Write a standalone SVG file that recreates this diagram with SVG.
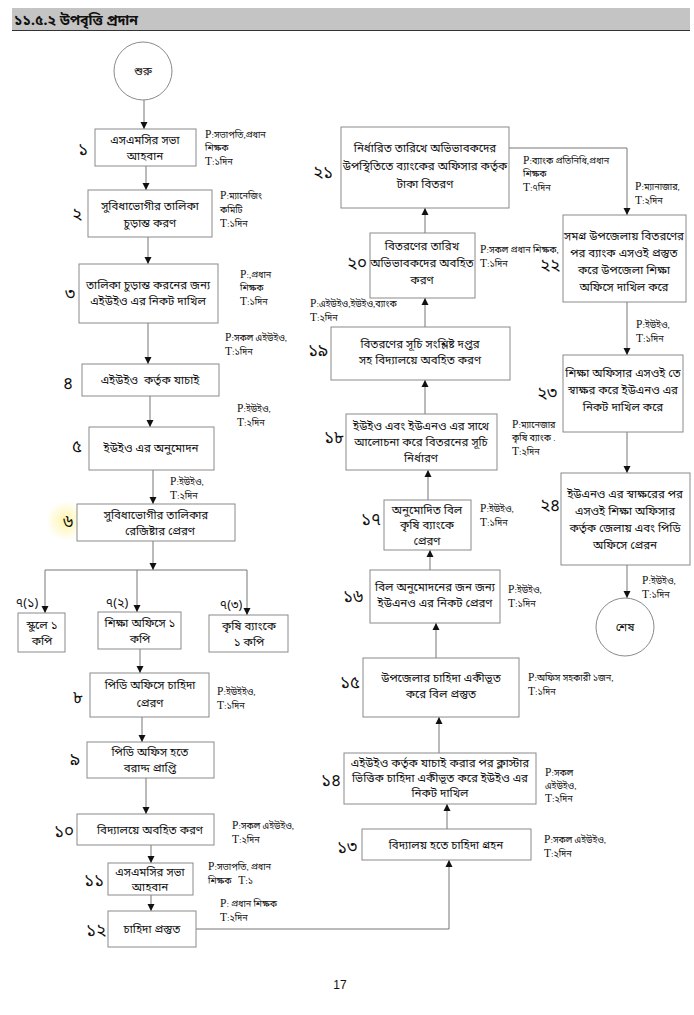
<svg xmlns="http://www.w3.org/2000/svg" width="694" height="1015" viewBox="0 0 694 1015">
<style>
.bx{fill:#fff;stroke:#8a8a8a;stroke-width:1}
.ci{fill:#fff;stroke:#8a8a8a;stroke-width:1}
.t{font-family:"Noto Sans Bengali","Noto Serif Bengali","Lohit Bengali","Liberation Serif",serif;font-size:11.5px;fill:#111;text-anchor:middle}
.n{font-family:"Noto Sans Bengali","Noto Serif Bengali","Lohit Bengali","Liberation Serif",serif;font-size:17px;fill:#111;text-anchor:middle}
.l{font-family:"Liberation Serif","Noto Sans Bengali","Noto Serif Bengali",serif;font-size:9px;fill:#111}
.l tspan.p{font-size:11.5px}
.c{fill:none;stroke:#777;stroke-width:1}
</style>
<defs>
<marker id="ah" markerWidth="8" markerHeight="8" refX="7" refY="4" orient="auto" markerUnits="userSpaceOnUse">
<path d="M0,0.5 L7,4 L0,7.5 Z" fill="#111"/>
</marker>
<radialGradient id="hl">
<stop offset="0" stop-color="#fff3a0" stop-opacity="0.9"/>
<stop offset="1" stop-color="#fff3a0" stop-opacity="0"/>
</radialGradient>
</defs>
<rect width="694" height="1015" fill="#fff"/>
<g id="header">
<rect x="12" y="8" width="678" height="22" fill="#c4c4c4"/>
<line x1="12" y1="30.5" x2="690" y2="30.5" stroke="#333" stroke-width="1"/>
<text x="14" y="25" style="font-family:'Noto Sans Bengali','Noto Serif Bengali','Lohit Bengali','Liberation Sans',sans-serif;font-size:14px;font-weight:bold;fill:#111">১১.৫.২ উপবৃত্তি প্রদান</text>
</g>
<g id="connectors">
<line class="c" x1="144" y1="100" x2="144" y2="129" marker-end="url(#ah)"/>
<line class="c" x1="146" y1="166" x2="146" y2="190" marker-end="url(#ah)"/>
<line class="c" x1="148" y1="237" x2="148" y2="264" marker-end="url(#ah)"/>
<line class="c" x1="148" y1="323" x2="148" y2="364" marker-end="url(#ah)"/>
<line class="c" x1="150" y1="396" x2="150" y2="427" marker-end="url(#ah)"/>
<line class="c" x1="153" y1="470" x2="153" y2="504" marker-end="url(#ah)"/>
<line class="c" x1="153" y1="541" x2="153" y2="570" marker-end="url(#ah)"/>
<line class="c" x1="45" y1="570" x2="247" y2="570"/>
<line class="c" x1="45" y1="570" x2="45" y2="613" marker-end="url(#ah)"/>
<line class="c" x1="247" y1="570" x2="247" y2="615" marker-end="url(#ah)"/>
<line class="c" x1="137" y1="570" x2="137" y2="612" marker-end="url(#ah)"/>
<line class="c" x1="140" y1="649" x2="140" y2="673" marker-end="url(#ah)"/>
<line class="c" x1="142" y1="717" x2="142" y2="742" marker-end="url(#ah)"/>
<line class="c" x1="146" y1="778" x2="146" y2="814" marker-end="url(#ah)"/>
<line class="c" x1="151" y1="845" x2="151" y2="863" marker-end="url(#ah)"/>
<line class="c" x1="151" y1="895" x2="151" y2="911" marker-end="url(#ah)"/>
<polyline class="c" points="196,929 449,929 449,860" marker-end="url(#ah)"/>
<line class="c" x1="447" y1="829" x2="447" y2="804" marker-end="url(#ah)"/>
<line class="c" x1="439" y1="753" x2="439" y2="717" marker-end="url(#ah)"/>
<line class="c" x1="436" y1="658" x2="436" y2="623" marker-end="url(#ah)"/>
<line class="c" x1="430" y1="570" x2="430" y2="550" marker-end="url(#ah)"/>
<line class="c" x1="428" y1="500" x2="428" y2="470" marker-end="url(#ah)"/>
<line class="c" x1="425" y1="414" x2="425" y2="380" marker-end="url(#ah)"/>
<line class="c" x1="425" y1="327" x2="425" y2="298" marker-end="url(#ah)"/>
<line class="c" x1="425" y1="233" x2="425" y2="208" marker-end="url(#ah)"/>
<polyline class="c" points="509,148 627,148 627,215" marker-end="url(#ah)"/>
<line class="c" x1="627" y1="302" x2="627" y2="355" marker-end="url(#ah)"/>
<line class="c" x1="627" y1="432" x2="627" y2="473" marker-end="url(#ah)"/>
<line class="c" x1="627" y1="565" x2="627" y2="598" marker-end="url(#ah)"/>
</g>
<g id="start"><circle class="ci" cx="143" cy="71" r="29"/><text class="t" x="143" y="75">শুরু</text></g>
<g id="n1"><rect class="bx" x="95" y="129" width="101" height="37"/><text class="t" x="145" y="144">এসএমসির সভা</text><text class="t" x="145" y="160">আহবান</text><text class="n" x="83" y="155">১</text>
<text class="l" x="205" y="138"><tspan class="p">P</tspan>:সভাপতি,প্রধান</text><text class="l" x="205" y="151">শিক্ষক</text><text class="l" x="205" y="165"><tspan class="p">T</tspan>:১দিন</text></g>
<g id="n2"><rect class="bx" x="88" y="190" width="124" height="47"/><text class="t" x="150" y="210">সুবিধাভোগীর তালিকা</text><text class="t" x="150" y="227">চুড়ান্ত করণ</text><text class="n" x="77" y="220">২</text>
<text class="l" x="220" y="199"><tspan class="p">P</tspan>:ম্যানেজিং</text><text class="l" x="220" y="213">কমিটি</text><text class="l" x="220" y="227"><tspan class="p">T</tspan>:১দিন</text></g>
<g id="n3"><rect class="bx" x="79" y="264" width="139" height="59"/><text class="t" x="148" y="289">তালিকা চুড়ান্ত করনের জন্য</text><text class="t" x="148" y="305">এইউইও এর নিকট দাখিল</text><text class="n" x="70" y="300">৩</text>
<text class="l" x="240" y="278"><tspan class="p">P</tspan>:,প্রধান</text><text class="l" x="240" y="291">শিক্ষক</text><text class="l" x="240" y="305"><tspan class="p">T</tspan>:১দিন</text></g>
<g id="n4"><rect class="bx" x="82" y="364" width="137" height="32"/><text class="t" x="150" y="384" xml:space="preserve">এইউইও  কর্তৃক যাচাই</text><text class="n" x="68" y="389">৪</text>
<text class="l" x="225" y="341"><tspan class="p">P</tspan>:সকল এইউইও,</text><text class="l" x="225" y="355"><tspan class="p">T</tspan>:১দিন</text></g>
<g id="n5"><rect class="bx" x="89" y="427" width="125" height="43"/><text class="t" x="151" y="452">ইউইও এর অনুমোদন</text><text class="n" x="77" y="452">৫</text>
<text class="l" x="237" y="412"><tspan class="p">P</tspan>:ইউইও,</text><text class="l" x="237" y="426"><tspan class="p">T</tspan>:২দিন</text></g>
<g id="n6"><circle cx="66" cy="521" r="20" fill="url(#hl)"/><rect class="bx" x="77" y="504" width="158" height="37"/><text class="t" x="156" y="519">সুবিধাভোগীর তালিকার</text><text class="t" x="160" y="535">রেজিষ্টার প্রেরণ</text><text class="n" x="68" y="527">৬</text>
<text class="l" x="170" y="485"><tspan class="p">P</tspan>:ইউইও,</text><text class="l" x="170" y="499"><tspan class="p">T</tspan>:২দিন</text></g>
<g id="n7a"><rect class="bx" x="18" y="613" width="47" height="39"/><text class="t" x="42" y="629">স্কুলে ১</text><text class="t" x="42" y="645">কপি</text><text class="t" x="27" y="607" style="font-size:12.5px">৭(১)</text></g>
<g id="n7b"><rect class="bx" x="98" y="612" width="83" height="37"/><text class="t" x="140" y="627">শিক্ষা অফিসে ১</text><text class="t" x="140" y="643">কপি</text><text class="t" x="117" y="607" style="font-size:12.5px">৭(২)</text></g>
<g id="n7c"><rect class="bx" x="209" y="615" width="79" height="37"/><text class="t" x="249" y="630">কৃষি ব্যাংকে</text><text class="t" x="249" y="646">১ কপি</text><text class="t" x="231" y="609" style="font-size:12.5px">৭(৩)</text></g>
<g id="n8"><rect class="bx" x="90" y="673" width="119" height="44"/><text class="t" x="150" y="689">পিডি অফিসে চাহিদা</text><text class="t" x="150" y="707">প্রেরণ</text><text class="n" x="78" y="703">৮</text>
<text class="l" x="217" y="695"><tspan class="p">P</tspan>:ইউইইও,</text><text class="l" x="217" y="709"><tspan class="p">T</tspan>:১দিন</text></g>
<g id="n9"><rect class="bx" x="87" y="742" width="127" height="36"/><text class="t" x="150" y="756">পিডি অফিস হতে</text><text class="t" x="150" y="772">বরাদ্দ প্রাপ্তি</text><text class="n" x="75" y="765">৯</text></g>
<g id="n10"><rect class="bx" x="77" y="814" width="137" height="31"/><text class="t" x="150" y="834">বিদ্যালয়ে অবহিত করণ</text><text class="n" x="64" y="837">১০</text>
<text class="l" x="232" y="829"><tspan class="p">P</tspan>:সকল এইউইও,</text><text class="l" x="232" y="843"><tspan class="p">T</tspan>:২দিন</text></g>
<g id="n11"><rect class="bx" x="108" y="863" width="85" height="32"/><text class="t" x="150" y="876">এসএমসির সভা</text><text class="t" x="150" y="891">আহবান</text><text class="n" x="94" y="886">১১</text>
<text class="l" x="208" y="870"><tspan class="p">P</tspan>:সভাপতি, প্রধান</text><text class="l" x="208" y="884" xml:space="preserve">শিক্ষক   <tspan class="p">T</tspan>:১</text></g>
<g id="n12"><rect class="bx" x="108" y="911" width="88" height="36"/><text class="t" x="152" y="933">চাহিদা প্রস্তুত</text><text class="n" x="96" y="936">১২</text>
<text class="l" x="220" y="907"><tspan class="p">P</tspan>: প্রধান শিক্ষক</text><text class="l" x="220" y="921"><tspan class="p">T</tspan>:২দিন</text></g>
<g id="n13"><rect class="bx" x="362" y="829" width="169" height="31"/><text class="t" x="446" y="849">বিদ্যালয় হতে চাহিদা গ্রহন</text><text class="n" x="347" y="853">১৩</text>
<text class="l" x="544" y="843"><tspan class="p">P</tspan>:সকল এইউইও,</text><text class="l" x="544" y="857"><tspan class="p">T</tspan>:২দিন</text></g>
<g id="n14"><rect class="bx" x="344" y="753" width="192" height="51"/><text class="t" x="440" y="767">এইউইও কর্তৃক যাচাই করার পর ক্লাস্টার</text><text class="t" x="440" y="782">ভিত্তিক চাহিদা একীভূত করে ইউইও এর</text><text class="t" x="440" y="797">নিকট দাখিল</text><text class="n" x="331" y="786">১৪</text>
<text class="l" x="545" y="776"><tspan class="p">P</tspan>:সকল</text><text class="l" x="545" y="789">এইউইও,</text><text class="l" x="545" y="802"><tspan class="p">T</tspan>:২দিন</text></g>
<g id="n15"><rect class="bx" x="363" y="658" width="156" height="59"/><text class="t" x="441" y="682">উপজেলার চাহিদা একীভূত</text><text class="t" x="441" y="698">করে বিল প্রস্তুত</text><text class="n" x="350" y="688">১৫</text>
<text class="l" x="528" y="681"><tspan class="p">P</tspan>:অফিস সহকারী ১জন,</text><text class="l" x="528" y="695"><tspan class="p">T</tspan>:১দিন</text></g>
<g id="n16"><rect class="bx" x="370" y="570" width="130" height="53"/><text class="t" x="435" y="591">বিল অনুমোদনের জন জন্য</text><text class="t" x="435" y="607">ইউএনও এর নিকট প্রেরণ</text><text class="n" x="353" y="602">১৬</text>
<text class="l" x="508" y="593"><tspan class="p">P</tspan>:ইউইও,</text><text class="l" x="508" y="607"><tspan class="p">T</tspan>:১দিন</text></g>
<g id="n17"><rect class="bx" x="384" y="500" width="87" height="50"/><text class="t" x="427" y="514">অনুমোদিত বিল</text><text class="t" x="427" y="529">কৃষি ব্যাংকে</text><text class="t" x="427" y="545">প্রেরণ</text><text class="n" x="371" y="525">১৭</text>
<text class="l" x="480" y="512"><tspan class="p">P</tspan>:ইউইও,</text><text class="l" x="480" y="526"><tspan class="p">T</tspan>:১দিন</text></g>
<g id="n18"><rect class="bx" x="346" y="414" width="151" height="56"/><text class="t" x="421" y="430">ইউইও এবং ইউএনও এর সাথে</text><text class="t" x="421" y="446">আলোচনা করে বিতরনের সূচি</text><text class="t" x="421" y="462">নির্ধারণ</text><text class="n" x="334" y="443">১৮</text>
<text class="l" x="512" y="428"><tspan class="p">P</tspan>:ম্যানেজার</text><text class="l" x="512" y="441">কৃষি ব্যাংক .</text><text class="l" x="512" y="455"><tspan class="p">T</tspan>:২দিন</text></g>
<g id="n19"><rect class="bx" x="331" y="327" width="179" height="53"/><text class="t" x="420" y="348">বিতরণের সূচি সংশ্লিষ্ট দপ্তর</text><text class="t" x="420" y="364">সহ বিদ্যালয়ে অবহিত করণ</text><text class="n" x="318" y="356">১৯</text>
<text class="l" x="310" y="307"><tspan class="p">P</tspan>:এইউইও,ইউইও,ব্যাংক</text><text class="l" x="310" y="321"><tspan class="p">T</tspan>:২দিন</text></g>
<g id="n20"><rect class="bx" x="370" y="233" width="105" height="65"/><text class="t" x="422" y="250">বিতরণের তারিখ</text><text class="t" x="422" y="267">অভিভাবকদের অবহিত</text><text class="t" x="422" y="284">করণ</text><text class="n" x="357" y="269">২০</text>
<text class="l" x="480" y="253"><tspan class="p">P</tspan>:সকল প্রধান শিক্ষক,</text><text class="l" x="480" y="267"><tspan class="p">T</tspan>:১দিন</text></g>
<g id="n21"><rect class="bx" x="341" y="127" width="168" height="81"/><text class="t" x="425" y="152">নির্ধারিত তারিখে অভিভাবকদের</text><text class="t" x="425" y="170">উপস্থিতিতে ব্যাংকের অফিসার কর্তৃক</text><text class="t" x="425" y="188">টাকা বিতরণ</text><text class="n" x="323" y="178">২১</text>
<text class="l" x="523" y="164"><tspan class="p">P</tspan>:ব্যাংক প্রতিনিধি,প্রধান</text><text class="l" x="523" y="177">শিক্ষক</text><text class="l" x="523" y="191"><tspan class="p">T</tspan>:৭দিন</text></g>
<g id="n22"><rect class="bx" x="563" y="215" width="123" height="87"/><text class="t" x="624" y="240">সমগ্র উপজেলায় বিতরণের</text><text class="t" x="624" y="257">পর ব্যাংক এসওই প্রস্তুত</text><text class="t" x="624" y="274">করে উপজেলা শিক্ষা</text><text class="t" x="624" y="291">অফিসে দাখিল করে</text><text class="n" x="550" y="271">২২</text>
<text class="l" x="635" y="190"><tspan class="p">P</tspan>:ম্যানাজার,</text><text class="l" x="635" y="204"><tspan class="p">T</tspan>:২দিন</text></g>
<g id="n23"><rect class="bx" x="563" y="355" width="120" height="77"/><text class="t" x="623" y="377">শিক্ষা অফিসার এসওই তে</text><text class="t" x="623" y="394">স্বাক্ষর করে ইউএনও এর</text><text class="t" x="623" y="411">নিকট দাখিল করে</text><text class="n" x="547" y="399">২৩</text>
<text class="l" x="636" y="328"><tspan class="p">P</tspan>:ইউইও,</text><text class="l" x="636" y="342"><tspan class="p">T</tspan>:১দিন</text></g>
<g id="n24"><rect class="bx" x="561" y="473" width="129" height="92"/><text class="t" x="625" y="498">ইউএনও এর স্বাক্ষরের পর</text><text class="t" x="625" y="515">এসওই শিক্ষা অফিসার</text><text class="t" x="625" y="532">কর্তৃক জেলায় এবং পিডি</text><text class="t" x="625" y="549">অফিসে প্রেরন</text><text class="n" x="550" y="511">২৪</text>
<text class="l" x="642" y="584"><tspan class="p">P</tspan>:ইউইও,</text><text class="l" x="642" y="598"><tspan class="p">T</tspan>:১দিন</text></g>
<g id="end"><circle class="ci" cx="625" cy="627" r="29"/><text class="t" x="625" y="631">শেষ</text></g>
<text x="340" y="989" style="font-family:'Liberation Sans',sans-serif;font-size:12px;fill:#111;text-anchor:middle">17</text>
</svg>
